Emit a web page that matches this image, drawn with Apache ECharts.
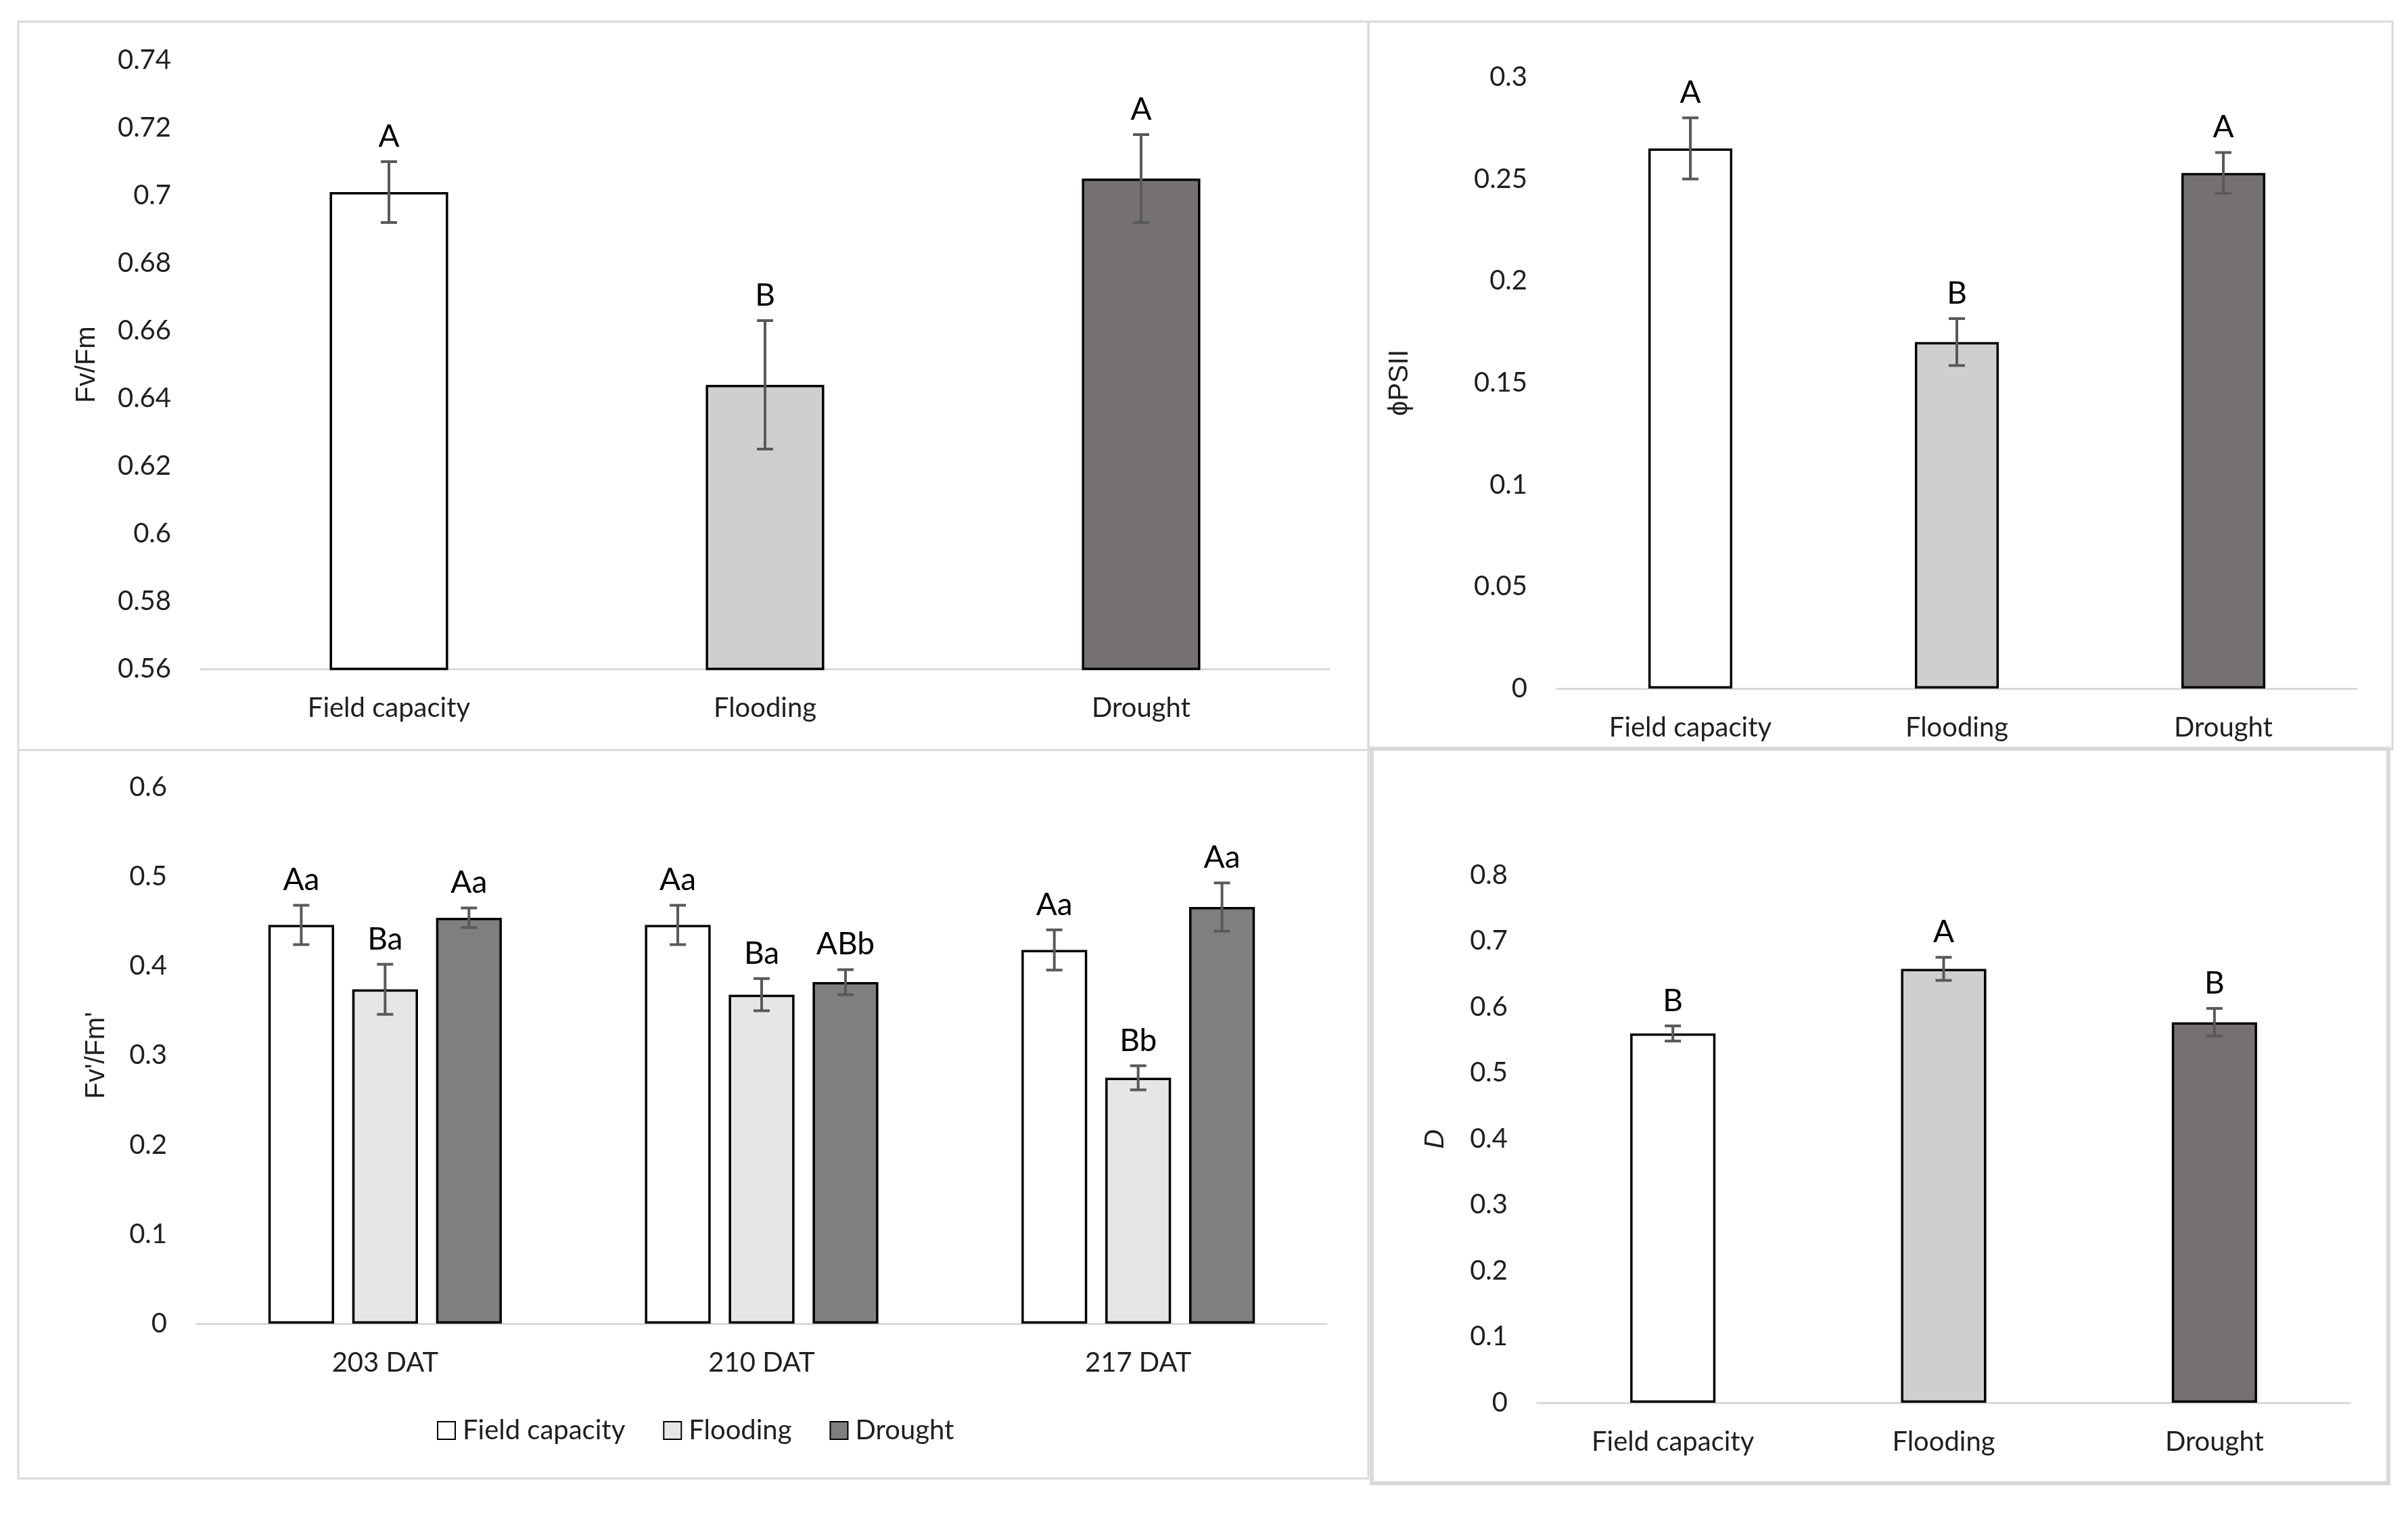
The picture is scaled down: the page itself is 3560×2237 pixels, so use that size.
<!DOCTYPE html>
<html>
<head>
<meta charset="utf-8">
<script src="https://cdn.jsdelivr.net/npm/echarts@6/dist/echarts.min.js"></script>
<style>
html,body{margin:0;padding:0;background:#fff;}
#chart{width:3560px;height:2237px;}
</style>
</head>
<body>
<div id="chart"></div>
<script>
// ---------- data ----------
const treatments = ['Field capacity', 'Flooding', 'Drought'];

const fvfmTicks = [0.56, 0.74, 0.02];          // min, max, step
const fvfmValues = [0.701, 0.644, 0.705];
const fvfmErrors = [0.009, 0.019, 0.013];
const fvfmLetters = ['A', 'B', 'A'];

const phiTicks = [0, 0.3, 0.05];
const phiValues = [0.265, 0.170, 0.253];
const phiErrors = [0.015, 0.0115, 0.010];
const phiLetters = ['A', 'B', 'A'];

const days = ['203 DAT', '210 DAT', '217 DAT'];
const fvfmpTicks = [0, 0.6, 0.1];
const fvfmpFC = [0.446, 0.446, 0.418];
const fvfmpFCErr = [0.022, 0.022, 0.0225];
const fvfmpFCLetters = ['Aa', 'Aa', 'Aa'];
const fvfmpFlood = [0.374, 0.368, 0.275];
const fvfmpFloodErr = [0.028, 0.018, 0.0135];
const fvfmpFloodLetters = ['Ba', 'Ba', 'Bb'];
const fvfmpDrought = [0.454, 0.382, 0.466];
const fvfmpDroughtErr = [0.011, 0.014, 0.027];
const fvfmpDroughtLetters = ['Aa', 'ABb', 'Aa'];

const dTicks = [0, 0.8, 0.1];
const dValues = [0.560, 0.658, 0.577];
const dErrors = [0.0115, 0.0175, 0.021];
const dLetters = ['B', 'A', 'B'];

// ---------- styles ----------
const colorsA = ['#FFFFFF', '#D0CECE', '#767171'];
const colorsB = ['#FFFFFF', '#E7E6E6', '#7F7F7F'];
const FONT = 'Lato, "Open Sans", sans-serif';
const TXT = '#1f1f1f';
const ERR = '#595959';
const AXIS = '#D9D9D9';
const LETTER_SIZE = 46;

const chart = echarts.init(document.getElementById('chart'), null, {renderer: 'canvas'});

function fmt(v) { return String(Math.round(v * 100) / 100); }

function xAxisCfg(gi, cats) {
  return {
    type: 'category', gridIndex: gi, data: cats,
    axisLine: {show: true, lineStyle: {color: AXIS, width: 3}},
    axisTick: {show: false},
    axisLabel: {color: TXT, fontFamily: FONT, fontSize: 40, margin: 38},
    splitLine: {show: false}
  };
}
function yAxisCfg(gi, t, name, gap, italic) {
  return {
    type: 'value', gridIndex: gi, min: t[0], max: t[1], interval: t[2],
    name: name, nameLocation: 'middle', nameGap: gap,
    nameTextStyle: {color: TXT, fontFamily: '"Liberation Sans", Arial, sans-serif', fontSize: 40, fontStyle: italic ? 'italic' : 'normal'},
    axisLine: {show: false}, axisTick: {show: false},
    splitLine: {show: false},
    axisLabel: {color: TXT, fontFamily: FONT, fontSize: 40, margin: 44, formatter: fmt}
  };
}

function barSeries(gi, name, values, colors, extra) {
  return Object.assign({
    type: 'bar', name: name, xAxisIndex: gi, yAxisIndex: gi,
    data: values.map((v, i) => ({value: v, itemStyle: {color: Array.isArray(colors) ? colors[i] : colors}})),
    itemStyle: {borderColor: '#000', borderWidth: 3.5},
    barWidth: '31.5%',
    emphasis: {disabled: true},
    z: 2
  }, extra || {});
}

// error bars + letters drawn via custom series using axis scales
function errSeries(gi, values, errors, letters, slot, nSlots, catGap, barGap) {
  return {
    type: 'custom', xAxisIndex: gi, yAxisIndex: gi, z: 5,
    silent: true,
    data: values.map((v, i) => [i, v, errors[i]]),
    renderItem: function (params, api) {
      const i = api.value(0), v = api.value(1), e = api.value(2);
      let offset = 0;
      if (nSlots > 1) {
        const band = api.size([1, 0])[0];
        const bw = band * (1 - catGap) / (nSlots + (nSlots - 1) * barGap);
        offset = (slot - (nSlots - 1) / 2) * bw * (1 + barGap);
      }
      const hi = api.coord([i, v + e]);
      const lo = api.coord([i, v - e]);
      const x = hi[0] + offset;
      const cap = 12;
      const ls = {stroke: ERR, lineWidth: 4};
      return {
        type: 'group',
        children: [
          {type: 'line', shape: {x1: x, y1: hi[1], x2: x, y2: lo[1]}, style: ls},
          {type: 'line', shape: {x1: x - cap, y1: hi[1], x2: x + cap, y2: hi[1]}, style: ls},
          {type: 'line', shape: {x1: x - cap, y1: lo[1], x2: x + cap, y2: lo[1]}, style: ls},
          {type: 'text', style: {text: letters[params.dataIndex], x: x, y: hi[1] - 14,
            align: 'center', verticalAlign: 'bottom', fill: '#000',
            font: LETTER_SIZE + 'px ' + FONT}}
        ]
      };
    }
  };
}

const option = {
  backgroundColor: '#fff',
  animation: false,
  textStyle: {fontFamily: FONT},
  grid: [
    {left: 297, right: 3560 - 1965, top: 89, bottom: 2237 - 989},
    {left: 2302, right: 3560 - 3484, top: 114, bottom: 2237 - 1018},
    {left: 291, right: 3560 - 1961, top: 1164, bottom: 2237 - 1957},
    {left: 2273, right: 3560 - 3474, top: 1294, bottom: 2237 - 2074}
  ],
  xAxis: [
    xAxisCfg(0, treatments),
    xAxisCfg(1, treatments),
    xAxisCfg(2, days),
    xAxisCfg(3, treatments)
  ],
  yAxis: [
    yAxisCfg(0, fvfmTicks, 'Fv/Fm', 148),
    yAxisCfg(1, phiTicks, '\u03D5PSII', 212),
    yAxisCfg(2, fvfmpTicks, "Fv'/Fm'", 128),
    yAxisCfg(3, dTicks, 'D', 130, true)
  ],
  legend: {
    data: ['Field capacity', 'Flooding', 'Drought'],
    left: 641, top: 2090,
    icon: 'rect', itemWidth: 26, itemHeight: 26, itemGap: 56,
    itemStyle: {borderColor: '#000', borderWidth: 2},
    textStyle: {color: TXT, fontFamily: FONT, fontSize: 40, padding: [0, 0, 0, 6]},
    selectedMode: false
  },
  graphic: [
    {type: 'rect', shape: {x: 27, y: 32, width: 1996, height: 2154}, style: {fill: null, stroke: AXIS, lineWidth: 3}, z: 0},
    {type: 'line', shape: {x1: 27, y1: 1109, x2: 2023, y2: 1109}, style: {stroke: AXIS, lineWidth: 3}, z: 0},
    {type: 'rect', shape: {x: 2023, y: 32, width: 1514, height: 1076}, style: {fill: null, stroke: AXIS, lineWidth: 3}, z: 0},
    {type: 'rect', shape: {x: 2028, y: 1107, width: 1503, height: 1086}, style: {fill: null, stroke: AXIS, lineWidth: 6}, z: 0}
  ],
  series: [
    barSeries(0, 'Fv/Fm', fvfmValues, colorsA),
    errSeries(0, fvfmValues, fvfmErrors, fvfmLetters, 0, 1),
    barSeries(1, 'PhiPSII', phiValues, colorsA),
    errSeries(1, phiValues, phiErrors, phiLetters, 0, 1),
    barSeries(2, 'Field capacity', fvfmpFC, colorsB[0], {barWidth: null, barGap: '27.5%', barCategoryGap: '38%', itemStyle: {color: colorsB[0], borderColor: '#000', borderWidth: 3.5}}),
    barSeries(2, 'Flooding', fvfmpFlood, colorsB[1], {barWidth: null, barGap: '27.5%', barCategoryGap: '38%', itemStyle: {color: colorsB[1], borderColor: '#000', borderWidth: 3.5}}),
    barSeries(2, 'Drought', fvfmpDrought, colorsB[2], {barWidth: null, barGap: '27.5%', barCategoryGap: '38%', itemStyle: {color: colorsB[2], borderColor: '#000', borderWidth: 3.5}}),
    errSeries(2, fvfmpFC, fvfmpFCErr, fvfmpFCLetters, 0, 3, 0.38, 0.275),
    errSeries(2, fvfmpFlood, fvfmpFloodErr, fvfmpFloodLetters, 1, 3, 0.38, 0.275),
    errSeries(2, fvfmpDrought, fvfmpDroughtErr, fvfmpDroughtLetters, 2, 3, 0.38, 0.275),
    barSeries(3, 'D', dValues, colorsA),
    errSeries(3, dValues, dErrors, dLetters, 0, 1)
  ]
};
chart.setOption(option);
</script>
</body>
</html>
